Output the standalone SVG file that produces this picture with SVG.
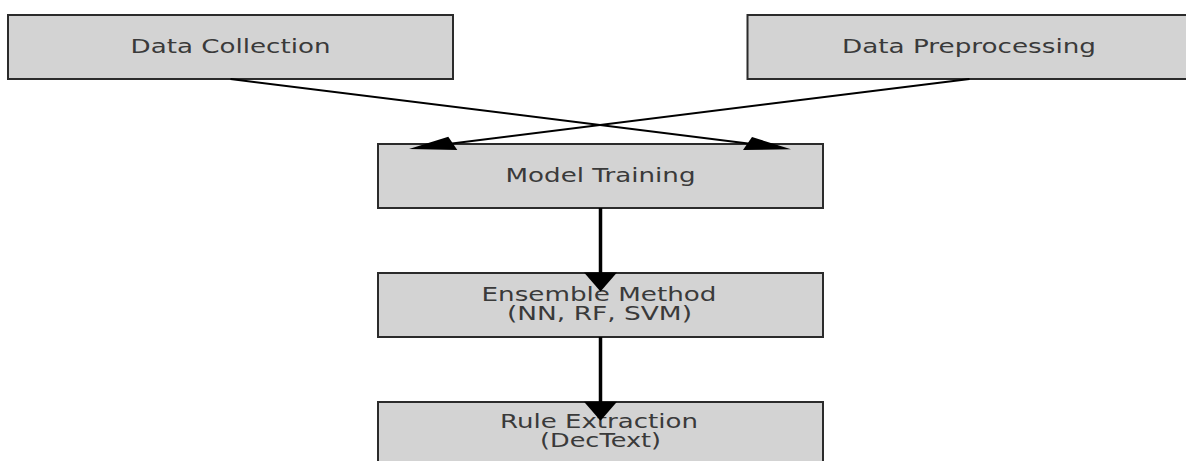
<svg xmlns="http://www.w3.org/2000/svg" width="1186" height="461" viewBox="0 0 1186 461">
<style>
.box{fill:#d3d3d3;stroke:#2b2b2b;stroke-width:2}
.lbl{font-family:"DejaVu Sans",sans-serif;font-size:19px;fill:#3a3a3a;text-anchor:middle}
.thin{stroke:#000;stroke-width:2;fill:none}
.thick{stroke:#000;stroke-width:3.5;fill:none}
.head{fill:#000}
</style>
<rect width="1186" height="461" fill="#fff"/>
<g id="node-data-collection">
<rect class="box" x="8" y="15" width="445" height="64"/>
<text class="lbl" x="230.5" y="53.3" textLength="200" lengthAdjust="spacingAndGlyphs">Data Collection</text>
</g>
<g id="node-data-preprocessing">
<rect class="box" x="747.5" y="15" width="445" height="64"/>
<text class="lbl" x="969" y="53.3" textLength="254" lengthAdjust="spacingAndGlyphs">Data Preprocessing</text>
</g>
<g id="node-model-training">
<rect class="box" x="378" y="144" width="445" height="64"/>
<text class="lbl" x="600.5" y="182.3" textLength="190" lengthAdjust="spacingAndGlyphs">Model Training</text>
</g>
<g id="node-ensemble-method">
<rect class="box" x="378" y="273" width="445" height="64"/>
<text class="lbl"><tspan x="599" y="300.7" textLength="235" lengthAdjust="spacingAndGlyphs">Ensemble Method</tspan><tspan x="599.5" y="320" textLength="185" lengthAdjust="spacingAndGlyphs">(NN, RF, SVM)</tspan></text>
</g>
<g id="node-rule-extraction">
<rect class="box" x="378" y="402" width="445" height="64"/>
<text class="lbl"><tspan x="599" y="428.3" textLength="198" lengthAdjust="spacingAndGlyphs">Rule Extraction</tspan><tspan x="600.5" y="446.7" textLength="121" lengthAdjust="spacingAndGlyphs">(DecText)</tspan></text>
</g>
<g id="connectors">
<line class="thin" x1="230.5" y1="79" x2="760" y2="145"/>
<polygon class="head" points="752,137 743,150 791,149.3"/>
<line class="thin" x1="969.5" y1="79" x2="440" y2="145"/>
<polygon class="head" points="448.3,136.7 457.3,150 409,149"/>
<line class="thick" x1="600.5" y1="208" x2="600.5" y2="274"/>
<polygon class="head" points="584,272.5 617,272.5 600.5,291.5"/>
<line class="thick" x1="600.5" y1="337" x2="600.5" y2="403"/>
<polygon class="head" points="584,401.7 617,401.7 600.5,420.7"/>
</g>
</svg>
